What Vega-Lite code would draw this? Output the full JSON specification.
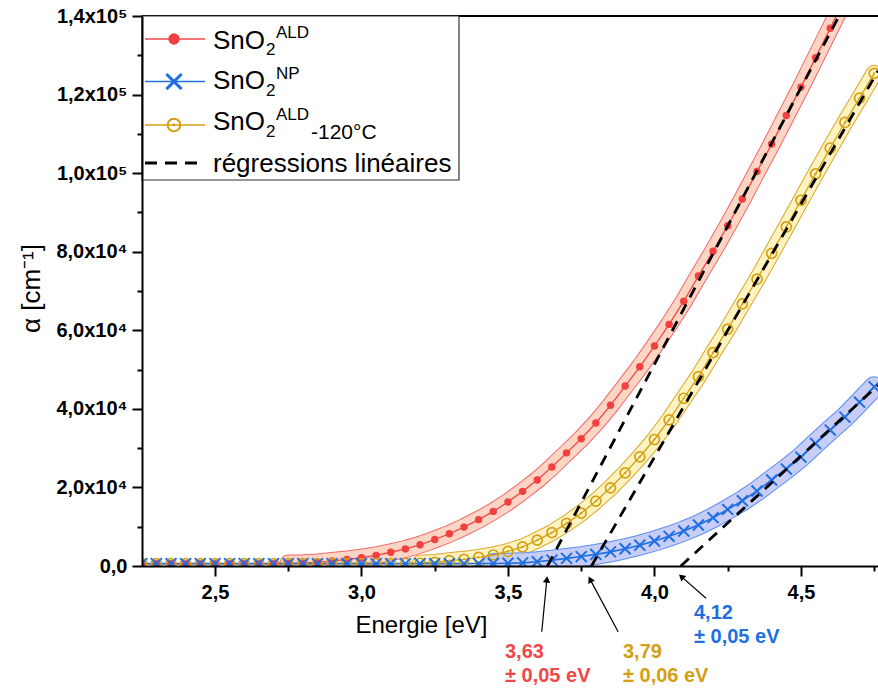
{
  "$schema": "https://vega.github.io/schema/vega-lite/v6.json",
  "width": 736,
  "height": 550,
  "autosize": "none",
  "padding": {"left": 142, "top": 16, "right": 0, "bottom": 122},
  "background": "white",
  "config": {
    "view": {"stroke": null},
    "axis": {"labelFont": "Liberation Sans", "labelFontSize": 20, "labelFontWeight": "bold", "labelColor": "black", "titleFont": "Liberation Sans", "titleFontSize": 24, "titleFontWeight": "normal", "titleColor": "black"}
  },
  "datasets": {
    "ald": [
      {"E":2.25,"a":600},{"E":2.30,"a":600},{"E":2.35,"a":600},{"E":2.40,"a":600},{"E":2.45,"a":600},{"E":2.50,"a":600},{"E":2.55,"a":600},{"E":2.60,"a":600},{"E":2.65,"a":600},{"E":2.70,"a":600},{"E":2.75,"a":650},{"E":2.80,"a":700},
      {"E":2.85,"a":900},{"E":2.90,"a":1300},{"E":2.95,"a":1650},{"E":3.00,"a":2100},{"E":3.05,"a":2700},{"E":3.10,"a":3500},{"E":3.15,"a":4350},{"E":3.20,"a":5400},{"E":3.25,"a":6750},{"E":3.30,"a":8200},{"E":3.35,"a":9900},{"E":3.40,"a":11800},{"E":3.45,"a":13900},{"E":3.50,"a":16300},{"E":3.55,"a":19000},{"E":3.60,"a":21900},{"E":3.65,"a":25200},{"E":3.70,"a":28800},{"E":3.75,"a":32400},{"E":3.80,"a":36400},{"E":3.85,"a":40900},{"E":3.90,"a":45800},{"E":3.95,"a":50700},{"E":4.00,"a":56000},{"E":4.05,"a":61500},{"E":4.10,"a":67400},{"E":4.15,"a":73800},{"E":4.20,"a":80100},{"E":4.25,"a":86600},{"E":4.30,"a":93400},{"E":4.35,"a":100400},{"E":4.40,"a":107400},{"E":4.45,"a":114700},{"E":4.50,"a":121900},{"E":4.55,"a":129400},{"E":4.60,"a":136900},{"E":4.65,"a":144500},{"E":4.70,"a":152000}
    ],
    "ald120": [
      {"E":2.25,"a":600},{"E":2.30,"a":600},{"E":2.35,"a":600},{"E":2.40,"a":600},{"E":2.45,"a":600},{"E":2.50,"a":600},{"E":2.55,"a":600},{"E":2.60,"a":600},{"E":2.65,"a":600},{"E":2.70,"a":600},{"E":2.75,"a":600},{"E":2.80,"a":600},{"E":2.85,"a":600},{"E":2.90,"a":600},{"E":2.95,"a":600},{"E":3.00,"a":600},{"E":3.05,"a":600},{"E":3.10,"a":600},{"E":3.15,"a":650},{"E":3.20,"a":700},
      {"E":3.25,"a":900},{"E":3.30,"a":1350},{"E":3.35,"a":1700},{"E":3.40,"a":2200},{"E":3.45,"a":2800},{"E":3.50,"a":3700},{"E":3.55,"a":4850},{"E":3.60,"a":6600},{"E":3.65,"a":8500},{"E":3.70,"a":10850},{"E":3.75,"a":13450},{"E":3.80,"a":16500},{"E":3.85,"a":19900},{"E":3.90,"a":23700},{"E":3.95,"a":27800},{"E":4.00,"a":32200},{"E":4.05,"a":37200},{"E":4.10,"a":42700},{"E":4.15,"a":48200},{"E":4.20,"a":54300},{"E":4.25,"a":60300},{"E":4.30,"a":66700},{"E":4.35,"a":73000},{"E":4.40,"a":79600},{"E":4.45,"a":86300},{"E":4.50,"a":93100},{"E":4.55,"a":99800},{"E":4.60,"a":106400},{"E":4.65,"a":112900},{"E":4.70,"a":119100},{"E":4.75,"a":125400}
    ],
    "np": [
      {"E":2.25,"a":600},{"E":2.30,"a":600},{"E":2.35,"a":600},{"E":2.40,"a":600},{"E":2.45,"a":600},{"E":2.50,"a":600},{"E":2.55,"a":600},{"E":2.60,"a":600},{"E":2.65,"a":600},{"E":2.70,"a":600},{"E":2.75,"a":600},{"E":2.80,"a":600},{"E":2.85,"a":600},{"E":2.90,"a":600},{"E":2.95,"a":600},{"E":3.00,"a":600},{"E":3.05,"a":600},{"E":3.10,"a":600},{"E":3.15,"a":600},{"E":3.20,"a":600},{"E":3.25,"a":600},{"E":3.30,"a":600},{"E":3.35,"a":600},{"E":3.40,"a":620},{"E":3.45,"a":650},{"E":3.50,"a":700},
      {"E":3.55,"a":800},{"E":3.60,"a":1100},{"E":3.65,"a":1500},{"E":3.70,"a":1950},{"E":3.75,"a":2400},{"E":3.80,"a":2950},{"E":3.85,"a":3600},{"E":3.90,"a":4400},{"E":3.95,"a":5300},{"E":4.00,"a":6350},{"E":4.05,"a":7550},{"E":4.10,"a":8900},{"E":4.15,"a":10450},{"E":4.20,"a":12300},{"E":4.25,"a":14400},{"E":4.30,"a":16600},{"E":4.35,"a":19100},{"E":4.40,"a":21900},{"E":4.45,"a":24700},{"E":4.50,"a":27700},{"E":4.55,"a":31200},{"E":4.60,"a":34600},{"E":4.65,"a":37900},{"E":4.70,"a":41700},{"E":4.75,"a":45600}
    ],
    "reg": [
      {"g":"r","E":3.635,"a":0},{"g":"r","E":4.63,"a":140000},
      {"g":"y","E":3.785,"a":0},{"g":"y","E":4.763,"a":126000},
      {"g":"b","E":4.09,"a":0},{"g":"b","E":4.763,"a":46000}
    ],
    "arrows": [
      {"k":"r","E":3.6154,"a":-16720,"E2":3.6328,"a2":-3400},
      {"k":"y","E":3.8761,"a":-16720,"E2":3.7804,"a2":-3400},
      {"k":"b","E":4.1761,"a":-8220,"E2":4.0920,"a2":-2700}
    ],
    "ann": [
      {"s":"r","E":3.4899,"a":-23420,"t":"3,63"},
      {"s":"r","E":3.4899,"a":-29530,"t":"± 0,05 eV"},
      {"s":"y","E":3.8926,"a":-23420,"t":"3,79"},
      {"s":"y","E":3.8926,"a":-29530,"t":"± 0,06 eV"},
      {"s":"b","E":4.1350,"a":-13490,"t":"4,12"},
      {"s":"b","E":4.1350,"a":-19600,"t":"± 0,05 eV"}
    ],
    "legbox": [{"E":2.251,"E2":3.3329,"a":140000,"a2":98255}],
    "legline": [
      {"s":"r","E":2.2612,"E2":2.4660,"a":134145},
      {"s":"b","E":2.2612,"E2":2.4660,"a":123320},
      {"s":"y","E":2.2612,"E2":2.4660,"a":112255}
    ],
    "legdash": [{"E":2.2612,"E2":2.4626,"a":102582}],
    "legmark": [
      {"s":"r","E":2.3602,"a":134145},
      {"s":"b","E":2.3602,"a":123320},
      {"s":"y","E":2.3602,"a":112255}
    ],
    "legbig": [
      {"E":2.4933,"a":131727,"t":"SnO"},
      {"E":2.4933,"a":121291,"t":"SnO"},
      {"E":2.4933,"a":110855,"t":"SnO"},
      {"E":2.4933,"a":100418,"t":"régressions linéaires"}
    ],
    "legsmall": [
      {"E":2.6742,"a":130073,"t":"2"},
      {"E":2.7083,"a":134446,"t":"ALD"},
      {"E":2.6742,"a":119636,"t":"2"},
      {"E":2.7083,"a":124011,"t":"NP"},
      {"E":2.6742,"a":109200,"t":"2"},
      {"E":2.7083,"a":113575,"t":"ALD"}
    ],
    "legsub": [
      {"E":2.8278,"a":108767,"t":"-120°C"}
    ],
    "top": [{"E":2.251,"E2":4.763,"a":140000}]
  },
  "encoding": {
    "x": {
      "field": "E", "type": "quantitative",
      "scale": {"domain": [2.251, 4.763], "nice": false, "zero": false},
      "axis": {
        "title": "Energie [eV]",
        "values": [2.5, 2.75, 3, 3.25, 3.5, 3.75, 4, 4.25, 4.5, 4.75],
        "labelExpr": "(datum.value*2) % 1 !== 0 ? '' : replace(format(datum.value, '.1f'), '.', ',')",
        "tickSize": {"condition": {"test": "(datum.value*2) % 1 !== 0", "value": 5}, "value": 10},
        "grid": false, "domainColor": "black", "domainWidth": 2, "tickColor": "black", "tickWidth": 2,
        "labelPadding": 6, "labelFlush": false, "labelOverlap": false, "labelBound": false,
        "titleX": 279, "titleY": 66, "titleBaseline": "alphabetic", "zindex": 1
      }
    },
    "y": {
      "field": "a", "type": "quantitative",
      "scale": {"domain": [0, 140000], "nice": false, "zero": false},
      "axis": {
        "title": "α [cm⁻¹]",
        "values": [0, 10000, 20000, 30000, 40000, 50000, 60000, 70000, 80000, 90000, 100000, 110000, 120000, 130000, 140000],
        "labelExpr": "datum.value % 20000 !== 0 ? '' : (datum.value === 0 ? '0,0' : (datum.value >= 100000 ? replace(format(datum.value/100000, '.1f'), '.', ',') + 'x10⁵' : replace(format(datum.value/10000, '.1f'), '.', ',') + 'x10⁴'))",
        "tickSize": {"condition": {"test": "datum.value % 20000 !== 0", "value": 5}, "value": 10},
        "grid": false, "domainColor": "black", "domainWidth": 2, "tickColor": "black", "tickWidth": 2,
        "labelPadding": 5, "labelOverlap": false, "labelFlush": false, "labelBound": false,
        "titleFontSize": 26, "titleX": -111, "titleY": 272, "titleBaseline": "middle", "zindex": 1
      }
    }
  },
  "layer": [
    {"data": {"name": "ald"}, "transform": [{"filter": "datum.E >= 2.75"}], "mark": {"type": "line", "clip": true, "strokeWidth": 18, "color": "#F26B6B", "strokeCap": "round"}},
    {"data": {"name": "ald"}, "transform": [{"filter": "datum.E >= 2.75"}], "mark": {"type": "line", "clip": true, "strokeWidth": 16, "color": "#FDD5C4", "strokeCap": "round"}},
    {"data": {"name": "ald120"}, "transform": [{"filter": "datum.E >= 3.2"}], "mark": {"type": "line", "clip": true, "strokeWidth": 17, "color": "#D9A82A", "strokeCap": "round"}},
    {"data": {"name": "ald120"}, "transform": [{"filter": "datum.E >= 3.2"}], "mark": {"type": "line", "clip": true, "strokeWidth": 15, "color": "#FFF3C2", "strokeCap": "round"}},
    {"data": {"name": "np"}, "transform": [{"filter": "datum.E >= 3.45"}], "mark": {"type": "line", "clip": true, "strokeWidth": 21, "color": "#5B8DEE", "strokeCap": "round"}},
    {"data": {"name": "np"}, "transform": [{"filter": "datum.E >= 3.45"}], "mark": {"type": "line", "clip": true, "strokeWidth": 19, "color": "#C8CDF8", "strokeCap": "round"}},
    {"data": {"name": "ald"}, "mark": {"type": "line", "clip": true, "strokeWidth": 1.3, "color": "#F04848"}},
    {"data": {"name": "ald120"}, "mark": {"type": "line", "clip": true, "strokeWidth": 1.3, "color": "#D4A012"}},
    {"data": {"name": "np"}, "mark": {"type": "line", "clip": true, "strokeWidth": 1.6, "color": "#1F6FE0"}},
    {"data": {"name": "ald"}, "mark": {"type": "point", "clip": true, "filled": true, "shape": "circle", "size": 55, "color": "#F04040", "opacity": 1}},
    {"data": {"name": "ald120"}, "mark": {"type": "point", "clip": true, "filled": false, "shape": "circle", "size": 100, "strokeWidth": 1.7, "color": "#D4A012", "opacity": 1}},
    {"data": {"name": "ald120"}, "mark": {"type": "point", "clip": true, "filled": true, "shape": "circle", "size": 5, "color": "#D4A012", "opacity": 1}},
    {"data": {"name": "np"}, "mark": {"type": "point", "clip": true, "filled": false, "shape": "M-1,-1L1,1M-1,1L1,-1", "size": 120, "strokeWidth": 2, "color": "#1F6FE0", "opacity": 1}},
    {"data": {"name": "reg"}, "mark": {"type": "line", "clip": true, "strokeWidth": 2.8, "color": "black", "strokeDash": [11, 8]}, "encoding": {"detail": {"field": "g"}}},
    {"data": {"name": "top"}, "mark": {"type": "rule", "strokeWidth": 2, "color": "black"}, "encoding": {"x2": {"field": "E2"}}},
    {"data": {"name": "legbox"}, "mark": {"type": "rect", "fill": "white", "stroke": "#333333", "strokeWidth": 1.2}, "encoding": {"x2": {"field": "E2"}, "y2": {"field": "a2"}}},
    {"data": {"name": "legline"}, "mark": {"type": "rule", "strokeWidth": 1.5}, "encoding": {"x2": {"field": "E2"}, "color": {"field": "s", "type": "nominal", "scale": {"domain": ["r", "y", "b"], "range": ["#F04848", "#D4A012", "#1F6FE0"]}, "legend": null}}},
    {"data": {"name": "legdash"}, "mark": {"type": "rule", "strokeWidth": 3, "color": "black", "strokeDash": [12, 8]}, "encoding": {"x2": {"field": "E2"}}},
    {"data": {"name": "legmark"}, "transform": [{"filter": "datum.s === 'r'"}], "mark": {"type": "point", "filled": true, "shape": "circle", "size": 130, "color": "#F04040", "opacity": 1}},
    {"data": {"name": "legmark"}, "transform": [{"filter": "datum.s === 'b'"}], "mark": {"type": "point", "filled": false, "shape": "M-1,-1L1,1M-1,1L1,-1", "size": 230, "strokeWidth": 3, "color": "#1F6FE0", "opacity": 1}},
    {"data": {"name": "legmark"}, "transform": [{"filter": "datum.s === 'y'"}], "mark": {"type": "point", "filled": false, "shape": "circle", "size": 160, "strokeWidth": 2, "color": "#D4A012", "opacity": 1}},
    {"data": {"name": "legmark"}, "transform": [{"filter": "datum.s === 'y'"}], "mark": {"type": "point", "filled": true, "shape": "circle", "size": 8, "color": "#D4A012", "opacity": 1}},
    {"data": {"name": "legbig"}, "mark": {"type": "text", "align": "left", "baseline": "alphabetic", "font": "Liberation Sans", "fontSize": 26, "color": "black"}, "encoding": {"text": {"field": "t"}}},
    {"data": {"name": "legsmall"}, "mark": {"type": "text", "align": "left", "baseline": "alphabetic", "font": "Liberation Sans", "fontSize": 17, "color": "black"}, "encoding": {"text": {"field": "t"}}},
    {"data": {"name": "legsub"}, "mark": {"type": "text", "align": "left", "baseline": "alphabetic", "font": "Liberation Sans", "fontSize": 21, "color": "black"}, "encoding": {"text": {"field": "t"}}},
    {"data": {"name": "arrows"}, "mark": {"type": "rule", "strokeWidth": 1.2, "color": "black"}, "encoding": {"x2": {"field": "E2"}, "y2": {"field": "a2"}}},
    {"data": {"name": "arrows"}, "transform": [{"filter": "datum.k === 'r'"}], "mark": {"type": "point", "shape": "triangle-up", "filled": true, "size": 55, "color": "black", "opacity": 1, "angle": 5}, "encoding": {"x": {"field": "E2"}, "y": {"field": "a2"}}},
    {"data": {"name": "arrows"}, "transform": [{"filter": "datum.k === 'y'"}], "mark": {"type": "point", "shape": "triangle-up", "filled": true, "size": 55, "color": "black", "opacity": 1, "angle": 332}, "encoding": {"x": {"field": "E2"}, "y": {"field": "a2"}}},
    {"data": {"name": "arrows"}, "transform": [{"filter": "datum.k === 'b'"}], "mark": {"type": "point", "shape": "triangle-up", "filled": true, "size": 55, "color": "black", "opacity": 1, "angle": 312}, "encoding": {"x": {"field": "E2"}, "y": {"field": "a2"}}},
    {"data": {"name": "ann"}, "mark": {"type": "text", "align": "left", "baseline": "alphabetic", "font": "Liberation Sans", "fontSize": 20, "fontWeight": "bold"}, "encoding": {"text": {"field": "t"}, "color": {"field": "s", "type": "nominal", "scale": {"domain": ["r", "y", "b"], "range": ["#F04848", "#D4A012", "#1F6FE0"]}, "legend": null}}}
  ]
}
